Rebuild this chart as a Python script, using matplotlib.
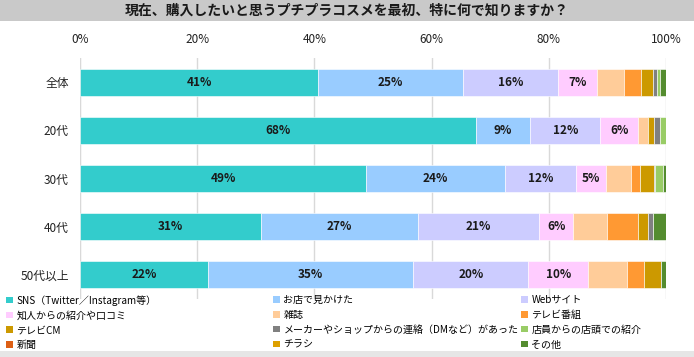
import matplotlib
matplotlib.use("Agg")
import matplotlib.pyplot as plt
from matplotlib.patches import Rectangle, Patch
import numpy as np

plt.rcParams['font.family'] = ['Noto Sans CJK JP', 'DejaVu Sans']

title = "現在、購入したいと思うプチプラコスメを最初、特に何で知りますか？"
categories = ["全体", "20代", "30代", "40代", "50代以上"]
series_names = ["SNS（Twitter／Instagram等）", "お店で見かけた", "Webサイト",
                "知人からの紹介や口コミ", "雑誌", "テレビ番組",
                "テレビCM", "メーカーやショップからの連絡（DMなど）があった", "店員からの店頭での紹介",
                "新聞", "チラシ", "その他"]
colors = ["#33CCCC", "#99CCFF", "#CCCCFF", "#FFCCFF", "#FFCC99", "#FF9933",
          "#CC9900", "#808080", "#99CC66", "#DD5F14", "#DDA000", "#548C2F"]

sns_v   = [40.6, 67.6, 48.8, 30.9, 21.8]
shop    = [24.8,  9.2, 23.7, 26.8, 35.1]
web     = [16.2, 12.0, 12.1, 20.6, 19.6]
friend  = [ 6.6,  6.4,  5.2,  5.9, 10.2]
mag     = [ 4.7,  1.8,  4.2,  5.8,  6.6]
tvprog  = [ 2.9,  0.0,  1.5,  5.2,  3.0]
tvcm    = [ 2.0,  1.0,  2.4,  1.8,  2.9]
maker   = [ 0.6,  0.9,  0.3,  0.8,  0.0]
clerk   = [ 0.6,  1.1,  1.3,  0.0,  0.0]
news    = [ 0.0,  0.0,  0.0,  0.0,  0.0]
flyer   = [ 0.0,  0.0,  0.0,  0.0,  0.0]
other   = [ 1.0,  0.0,  0.5,  2.2,  0.8]
data = [sns_v, shop, web, friend, mag, tvprog, tvcm, maker, clerk, news, flyer, other]
labeled = 4
xticks = [0, 20, 40, 60, 80, 100]
xticklabels = ["0%", "20%", "40%", "60%", "80%", "100%"]

W, H = 694, 357
fig = plt.figure(figsize=(W / 100, H / 100), dpi=100)

# title band
fig.patches.append(Rectangle((0, 1 - 21 / H), 1, 21 / H, transform=fig.transFigure,
                             facecolor="#C9C9C9", edgecolor="none", zorder=0))
fig.text(0.5, 1 - 10.5 / H, title, ha="center", va="center", fontsize=10,
         fontweight="bold", color="#1a1a1a")
# bottom band
fig.patches.append(Rectangle((0, 0), 1, 6 / H, transform=fig.transFigure,
                             facecolor="#E6E6E6", edgecolor="none", zorder=0))

ax = fig.add_axes([80 / W, 1 - 299 / H, (666 - 80) / W, (299 - 58) / H])
y = np.arange(len(categories))
left = np.zeros(len(categories))
handles = []
for i, (name, vals, col) in enumerate(zip(series_names, data, colors)):
    vals = np.array(vals)
    ax.barh(y, vals, left=left, height=0.56, color=col, edgecolor="white",
            linewidth=0.4, zorder=3, label=name)
    if i < labeled:
        for yy, l, v in zip(y, left, vals):
            if v >= 4.5:
                ax.text(l + v / 2, yy, f"{round(v):d}%", ha="center", va="center",
                        fontsize=8.5, fontweight="bold", color="#1a1a1a", zorder=4)
    handles.append(Patch(facecolor=col, edgecolor="none", label=name))
    left += vals

ax.set_xlim(0, 100)
ax.set_ylim(len(categories) - 0.5, -0.5)
ax.set_xticks(xticks)
ax.set_xticklabels(xticklabels, fontsize=8.5, color="#222222")
ax.xaxis.tick_top()
ax.tick_params(axis="x", length=0, pad=8.5)
ax.set_yticks(y)
ax.set_yticklabels(categories, fontsize=8.5, color="#222222")
ax.tick_params(axis="y", length=0, pad=8)
ax.grid(axis="x", color="#D9D9D9", linewidth=1, zorder=0)
for s in ax.spines.values():
    s.set_visible(False)
ax.axvline(0, color="#D9D9D9", linewidth=1.5, zorder=1)

# legend: three columns, four rows (row-major order)
col_x = [6 / W, 273 / W, 521 / W]
for c in range(3):
    hs = [handles[r * 3 + c] for r in range(4)]
    fig.legend(handles=hs, loc="upper left", bbox_to_anchor=(col_x[c], 1 - 295 / H),
               frameon=False, fontsize=7.2, handlelength=0.65, handleheight=0.65,
               handletextpad=0.4, labelspacing=0.48, borderpad=0, borderaxespad=0)

fig.savefig("out.png", dpi=100)
